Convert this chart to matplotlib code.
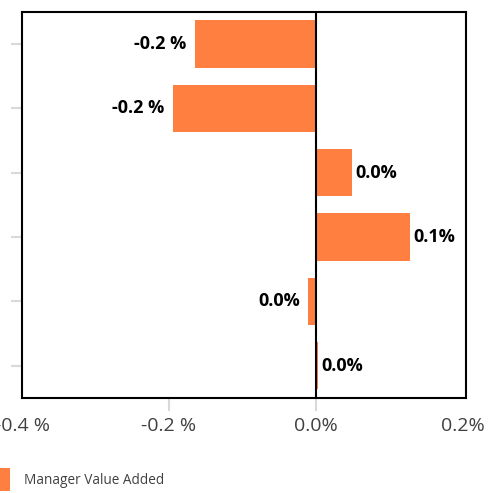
import matplotlib
matplotlib.use("Agg")
import matplotlib.pyplot as plt
import numpy as np

plt.rcParams['font.family'] = ['Open Sans', 'DejaVu Sans']

# Data
categories = ["A", "B", "C", "D", "E", "F"]
values = [-0.165, -0.195, 0.049, 0.128, -0.011, 0.003]
series_name = "Manager Value Added"
xticks = [-0.4, -0.2, 0.0, 0.2]

bar_color = "#FF7F41"


def pct_label(v):
    r = round(v, 1)
    if r < 0:
        return f"{r:.1f} %"
    return f"{abs(r):.1f}%"


fig = plt.figure(figsize=(4.89, 4.93), dpi=100)
ax = fig.add_axes([0.045, 0.193, 0.908, 0.783])

y = np.arange(len(categories))
bars = ax.barh(y, values, height=0.74, color=bar_color, label=series_name, zorder=2)

ax.set_ylim(len(categories) - 0.5, -0.5)
ax.set_xlim(-0.4, 0.204)
ax.axvline(0, color="black", lw=1.5, zorder=3)

for rect, v in zip(bars, values):
    yc = rect.get_y() + rect.get_height() / 2
    if v < 0:
        ax.annotate(pct_label(v), (v, yc), xytext=(-6, 0), textcoords="offset points",
                    ha="right", va="center", fontsize=13, fontweight="bold", color="black")
    else:
        ax.annotate(pct_label(v), (v, yc), xytext=(2.5, 0), textcoords="offset points",
                    ha="left", va="center", fontsize=13, fontweight="bold", color="black")

ax.set_yticks(y)
ax.set_yticklabels([])
ax.tick_params(axis="y", length=8, width=1.5, color="#d9d9d9", direction="out", pad=2)

ax.set_xticks(xticks)
ax.set_xticklabels([pct_label(t) for t in xticks])
ax.tick_params(axis="x", length=9, width=1.5, color="#d9d9d9", labelsize=14,
               labelcolor="#404040", pad=5)
xt = ax.xaxis.get_major_ticks()
xt[0].tick1line.set_visible(False)
xt[-1].tick1line.set_visible(False)

for s in ax.spines.values():
    s.set_color("black")
    s.set_linewidth(1.5)

fig.legend(handles=[bars], labels=[series_name], loc="center left",
           bbox_to_anchor=(-0.024, 0.027), frameon=False, fontsize=9.8,
           handlelength=1.6, handleheight=2.2, handletextpad=1.03,
           labelcolor="#404040", borderpad=0, borderaxespad=0)

fig.savefig("out.png", dpi=100)
